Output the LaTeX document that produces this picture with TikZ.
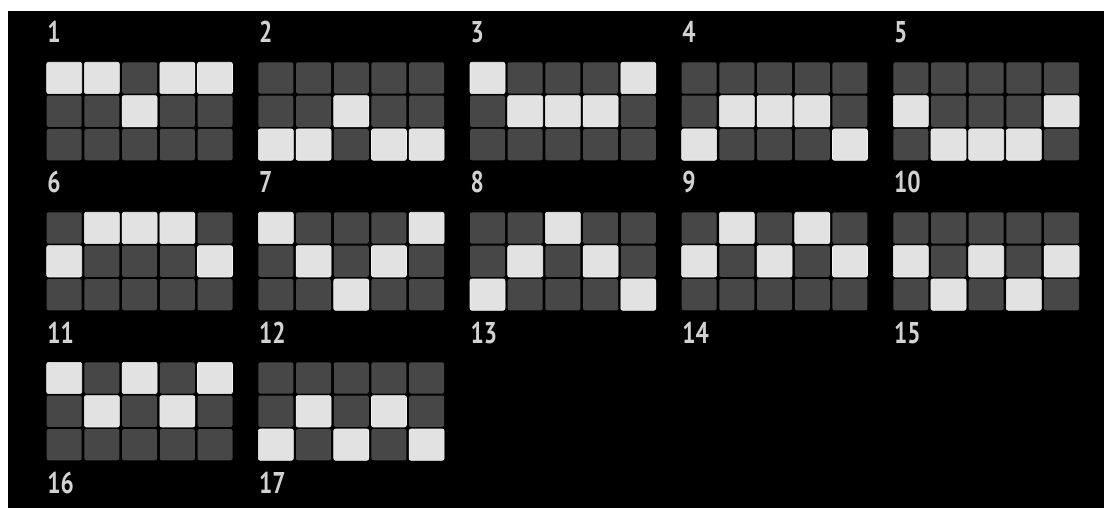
\documentclass[tikz,border=0pt]{standalone}
\usepackage{fontspec}
\newfontfamily\labfont[FakeStretch=0.78]{PT Sans}
\definecolor{bg}{HTML}{000000}
\definecolor{darkcell}{HTML}{474747}
\definecolor{lightcell}{HTML}{E2E2E2}
\definecolor{lightedge}{HTML}{F2F2F2}
\definecolor{labcol}{HTML}{D2D2D2}
\tikzset{
  cell/.style={minimum width=35pt, minimum height=31.3pt, inner sep=0pt, rounded corners=2pt},
  c0/.style={fill=darkcell},
  c1/.style={fill=lightcell, draw=lightedge, line width=0.6pt},
  numlabel/.style={anchor=base west, inner sep=0pt, text=labcol, font=\labfont\bfseries\fontsize{30}{30}\selectfont}
}
\begin{document}
\begin{tikzpicture}[x=1pt,y=-1pt]
\useasboundingbox (0,0) rectangle (1104,508);
\fill[white] (0,0) rectangle (1104,508);
\fill[bg] (8,11) rectangle (1104,508);
% grids
\foreach \g/\p in {
 1/{1,1,0,1,1, 0,0,1,0,0, 0,0,0,0,0},
 2/{0,0,0,0,0, 0,0,1,0,0, 1,1,0,1,1},
 3/{1,0,0,0,1, 0,1,1,1,0, 0,0,0,0,0},
 4/{0,0,0,0,0, 0,1,1,1,0, 1,0,0,0,1},
 5/{0,0,0,0,0, 1,0,0,0,1, 0,1,1,1,0},
 6/{0,1,1,1,0, 1,0,0,0,1, 0,0,0,0,0},
 7/{1,0,0,0,1, 0,1,0,1,0, 0,0,1,0,0},
 8/{0,0,1,0,0, 0,1,0,1,0, 1,0,0,0,1},
 9/{0,1,0,1,0, 1,0,1,0,1, 0,0,0,0,0},
 10/{0,0,0,0,0, 1,0,1,0,1, 0,1,0,1,0},
 11/{1,0,1,0,1, 0,1,0,1,0, 0,0,0,0,0},
 12/{0,0,0,0,0, 0,1,0,1,0, 1,0,1,0,1}}{
  \pgfmathsetmacro{\gx}{46.7+211.65*mod(\g-1,5)}
  \pgfmathsetmacro{\gy}{62.3+150*int((\g-1)/5)}
  \foreach \v [count=\k from 0] in \p {
    \pgfmathsetmacro{\cx}{\gx+37.7*mod(\k,5)+17.5}
    \pgfmathsetmacro{\cy}{\gy+33.35*int(\k/5)+15.65}
    \node[cell, c\v] (g\g-\k) at (\cx,\cy) {};
  }
}
% labels
\foreach \n in {1,...,17}{
  \pgfmathsetmacro{\lx}{46.7+211.65*mod(\n-1,5)+0.5}
  \pgfmathsetmacro{\ly}{43+150*int((\n-1)/5)}
  \node[numlabel] (lab\n) at (\lx,\ly) {\n};
}
\end{tikzpicture}
\end{document}
